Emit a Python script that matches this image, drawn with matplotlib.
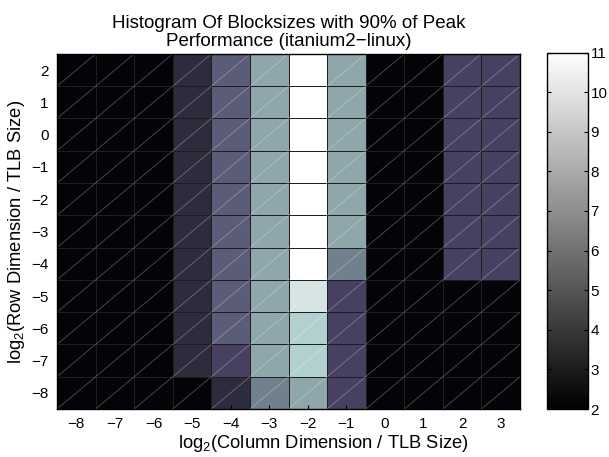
import numpy as np
import matplotlib
matplotlib.use("Agg")
import matplotlib.pyplot as plt
from matplotlib.colors import LinearSegmentedColormap, Normalize
from matplotlib.collections import LineCollection
import matplotlib.cm as cm

plt.rcParams['font.family'] = ['Liberation Sans', 'DejaVu Sans']
plt.rcParams['mathtext.default'] = 'regular'
plt.rcParams['axes.unicode_minus'] = True

# block size exponents
col_exp = [-8, -7, -6, -5, -4, -3, -2, -1, 0, 1, 2, 3]
row_exp = [2, 1, 0, -1, -2, -3, -4, -5, -6, -7, -8]

# histogram counts, one row per row exponent (top to bottom)
counts = [
    [2, 2, 2, 4, 6, 8, 11, 8, 2, 2, 5, 5],
    [2, 2, 2, 4, 6, 8, 11, 8, 2, 2, 5, 5],
    [2, 2, 2, 4, 6, 8, 11, 8, 2, 2, 5, 5],
    [2, 2, 2, 4, 6, 8, 11, 8, 2, 2, 5, 5],
    [2, 2, 2, 4, 6, 8, 11, 8, 2, 2, 5, 5],
    [2, 2, 2, 4, 6, 8, 11, 8, 2, 2, 5, 5],
    [2, 2, 2, 4, 6, 8, 11, 7, 2, 2, 5, 5],
    [2, 2, 2, 4, 6, 8, 10, 5, 2, 2, 2, 2],
    [2, 2, 2, 4, 6, 8, 9, 5, 2, 2, 2, 2],
    [2, 2, 2, 4, 5, 8, 9, 5, 2, 2, 2, 2],
    [2, 2, 2, 2, 4, 7, 8, 5, 2, 2, 2, 2],
]

vmin, vmax = 2, 11

# bluish bone-like palette for the cells
anchors = [(2, (3, 3, 8)), (4, (45, 44, 62)), (5, (72, 64, 96)),
           (6, (90, 92, 120)), (7, (112, 128, 140)), (8, (143, 166, 170)),
           (9, (178, 208, 208)), (10, (215, 228, 228)), (11, (255, 255, 255))]
cell_cmap = LinearSegmentedColormap.from_list(
    'cells', [((v - vmin) / (vmax - vmin), tuple(c / 255 for c in rgb)) for v, rgb in anchors])

fig = plt.figure(figsize=(6.09, 4.57), dpi=100)
ax = fig.add_axes([0.0936, 0.105, 0.7603, 0.777])
cax = fig.add_axes([0.898, 0.105, 0.0673, 0.78])

x = np.array(col_exp)
y = np.array(row_exp)
xe = np.append(x - 0.5, x[-1] + 0.5)
ye = np.append(y + 0.5, y[-1] - 0.5)  # descending edges
Z = np.array(counts, dtype=float)

norm = Normalize(vmin=vmin, vmax=vmax)
ax.pcolormesh(xe, ye, Z, cmap=cell_cmap, norm=norm,
              edgecolors='#1e1e1e', linewidth=0.65)

# thin diagonal in every cell
segs = [[(cx - 0.5, cy - 0.5), (cx + 0.5, cy + 0.5)] for cy in y for cx in x]
ax.add_collection(LineCollection(segs, colors=(1, 1, 1, 0.3), linewidths=0.6))

ax.set_xlim(xe[0], xe[-1])
ax.set_ylim(y[-1] - 0.5, y[0] + 0.5)
ax.set_xticks(col_exp)
ax.set_yticks(row_exp)
ax.tick_params(direction='in', length=3, labelsize=11, pad=6)
for s in ax.spines.values():
    s.set_linewidth(1.0)

ax.set_xlabel('log$_2$(Column Dimension / TLB Size)', fontsize=13.2)
ax.xaxis.set_label_coords(0.575, -0.068)
ax.set_ylabel('log$_2$(Row Dimension / TLB Size)', fontsize=13.2, labelpad=3)
ax.set_title('Histogram Of Blocksizes with 90% of Peak\nPerformance (itanium2\u2212linux)',
             fontsize=13.5, pad=6, linespacing=1.05)

sm = cm.ScalarMappable(norm=norm, cmap='gray')
cb = fig.colorbar(sm, cax=cax, ticks=range(2, 12))
cb.outline.set_linewidth(1.0)
cax.tick_params(direction='in', length=3, labelsize=11, left=True, right=True, pad=2)

fig.savefig('out.png', dpi=100)
